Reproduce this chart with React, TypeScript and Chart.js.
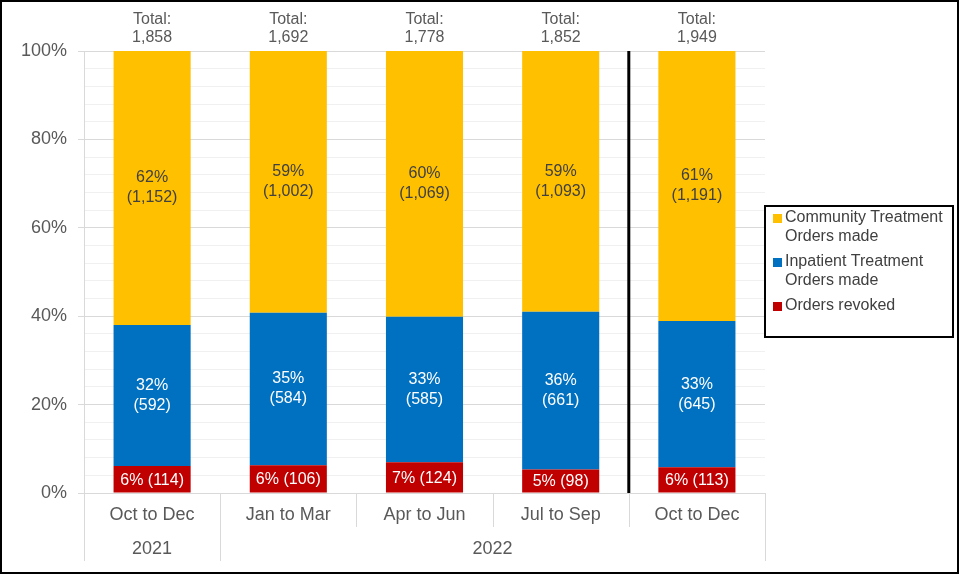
import React, { useEffect, useRef } from "react";
import { Chart, registerables } from "chart.js";

Chart.register(...registerables);

const categories = ["Oct to Dec", "Jan to Mar", "Apr to Jun", "Jul to Sep", "Oct to Dec"];
const yearLabels = ["2021", "2022"];
const yearStart = [0, 1];
const yearEnd = [0, 4];
const communityTO = [1152, 1002, 1069, 1093, 1191];
const inpatientTO = [592, 584, 585, 661, 645];
const revoked = [114, 106, 124, 98, 113];
const seriesNames = ["Orders revoked", "Inpatient Treatment Orders made", "Community Treatment Orders made"];
const legendLines = [["Community Treatment", "Orders made"], ["Inpatient Treatment", "Orders made"], ["Orders revoked"]];

const YELLOW = "#FFC000";
const BLUE = "#0070C0";
const RED = "#C00000";
const FONT = '"Liberation Sans", Arial, sans-serif';

const totals = categories.map((_, i) => communityTO[i] + inpatientTO[i] + revoked[i]);
const pct = (arr: number[]) => arr.map((v, i) => (v / totals[i]) * 100);
const fmt = (n: number) => n.toLocaleString("en-US");

const overlay = {
  id: "overlay",
  afterDatasetsDraw(chart: any) {
    const ctx = chart.ctx;
    const area = chart.chartArea;
    const xs = chart.scales.x;
    const px = (i: number) => xs.getPixelForValue(i);
    const half = (px(1) - px(0)) / 2;
    ctx.save();
    ctx.textAlign = "center";
    ctx.textBaseline = "middle";
    const raw = [revoked, inpatientTO, communityTO];
    const colors = ["#ffffff", "#ffffff", "#404040"];
    for (let d = 0; d < 3; d++) {
      const meta = chart.getDatasetMeta(d);
      meta.data.forEach((bar: any, j: number) => {
        const mid = (bar.y + bar.base) / 2;
        const p = Math.round((raw[d][j] / totals[j]) * 100) + "%";
        const c = "(" + fmt(raw[d][j]) + ")";
        ctx.fillStyle = colors[d];
        ctx.font = "16px " + FONT;
        if (d === 0) {
          ctx.fillText(p + " " + c, bar.x, mid + 1);
        } else {
          ctx.fillText(p, bar.x, mid - 10);
          ctx.fillText(c, bar.x, mid + 10);
        }
      });
    }
    ctx.fillStyle = "#595959";
    ctx.font = "16px " + FONT;
    categories.forEach((_, j) => {
      ctx.fillText("Total:", px(j), 20);
      ctx.fillText(fmt(totals[j]), px(j), 38);
    });
    ctx.fillStyle = "#000000";
    const sx = (px(3) + px(4)) / 2;
    ctx.fillRect(sx - 1.5, area.top, 3, area.bottom - area.top);
    ctx.strokeStyle = "#d9d9d9";
    ctx.lineWidth = 1;
    const bottom = area.bottom;
    for (let b = 0; b <= categories.length; b++) {
      const x = Math.round(b === 0 ? px(0) - half : px(b - 1) + half) + 0.5;
      const isYearEdge = yearStart.includes(b) || b === categories.length;
      ctx.beginPath();
      ctx.moveTo(x, bottom);
      ctx.lineTo(x, isYearEdge ? 561 : 527);
      ctx.stroke();
    }
    ctx.fillStyle = "#595959";
    ctx.font = "18px " + FONT;
    categories.forEach((c, j) => ctx.fillText(c, px(j), 515));
    yearLabels.forEach((y, k) => {
      const cx = (px(yearStart[k]) + px(yearEnd[k])) / 2;
      ctx.fillText(y, cx, 549);
    });
    ctx.strokeStyle = "#000000";
    ctx.lineWidth = 2;
    ctx.strokeRect(765, 206, 188, 131);
    const legColors = [YELLOW, BLUE, RED];
    const legY = [218, 262, 306];
    ctx.textAlign = "left";
    ctx.font = "16px " + FONT;
    legendLines.forEach((lines, k) => {
      ctx.fillStyle = legColors[k];
      ctx.fillRect(773, legY[k] - 4, 9, 9);
      ctx.fillStyle = "#404040";
      lines.forEach((t, li) => ctx.fillText(t, 785, legY[k] + li * 19));
    });
    ctx.strokeStyle = "#000000";
    ctx.lineWidth = 2;
    ctx.strokeRect(1, 1, 957, 572);
    ctx.restore();
  },
};

export default function App() {
  const ref = useRef<HTMLCanvasElement>(null);
  useEffect(() => {
    document.body.style.margin = "0";
    const chart = new Chart(ref.current!, {
      type: "bar",
      data: {
        labels: categories,
        datasets: [
          { label: seriesNames[0], data: pct(revoked), backgroundColor: RED },
          { label: seriesNames[1], data: pct(inpatientTO), backgroundColor: BLUE },
          { label: seriesNames[2], data: pct(communityTO), backgroundColor: YELLOW },
        ],
      },
      options: {
        animation: false,
        responsive: false,
        maintainAspectRatio: false,
        layout: { padding: { top: 51, bottom: 81, left: 0, right: 194 } },
        plugins: { legend: { display: false }, tooltip: { enabled: false } },
        datasets: { bar: { categoryPercentage: 1, barPercentage: 0.566 } },
        scales: {
          x: { stacked: true, display: false },
          y: {
            stacked: true,
            min: 0,
            max: 100,
            afterFit: (s: any) => {
              s.width = 84;
            },
            ticks: {
              stepSize: 4,
              autoSkip: false,
              padding: 11,
              color: "#595959",
              font: { family: FONT, size: 18 },
              callback: (v: any) => (Number(v) % 20 === 0 ? v + "%" : ""),
            },
            grid: {
              tickLength: 6,
              color: (c: any) => (c.tick && c.tick.value % 20 === 0 ? "#d9d9d9" : "#f0f0f0"),
              tickColor: (c: any) => (c.tick && c.tick.value % 20 === 0 ? "#d9d9d9" : "rgba(0,0,0,0)"),
            },
            border: { color: "#d9d9d9" },
          },
        },
      },
      plugins: [overlay],
    });
    return () => chart.destroy();
  }, []);
  return (
    <div style={{ width: 959, height: 574, position: "relative", background: "#fff" }}>
      <canvas ref={ref} width={959} height={574} style={{ width: 959, height: 574, display: "block" }} />
    </div>
  );
}
